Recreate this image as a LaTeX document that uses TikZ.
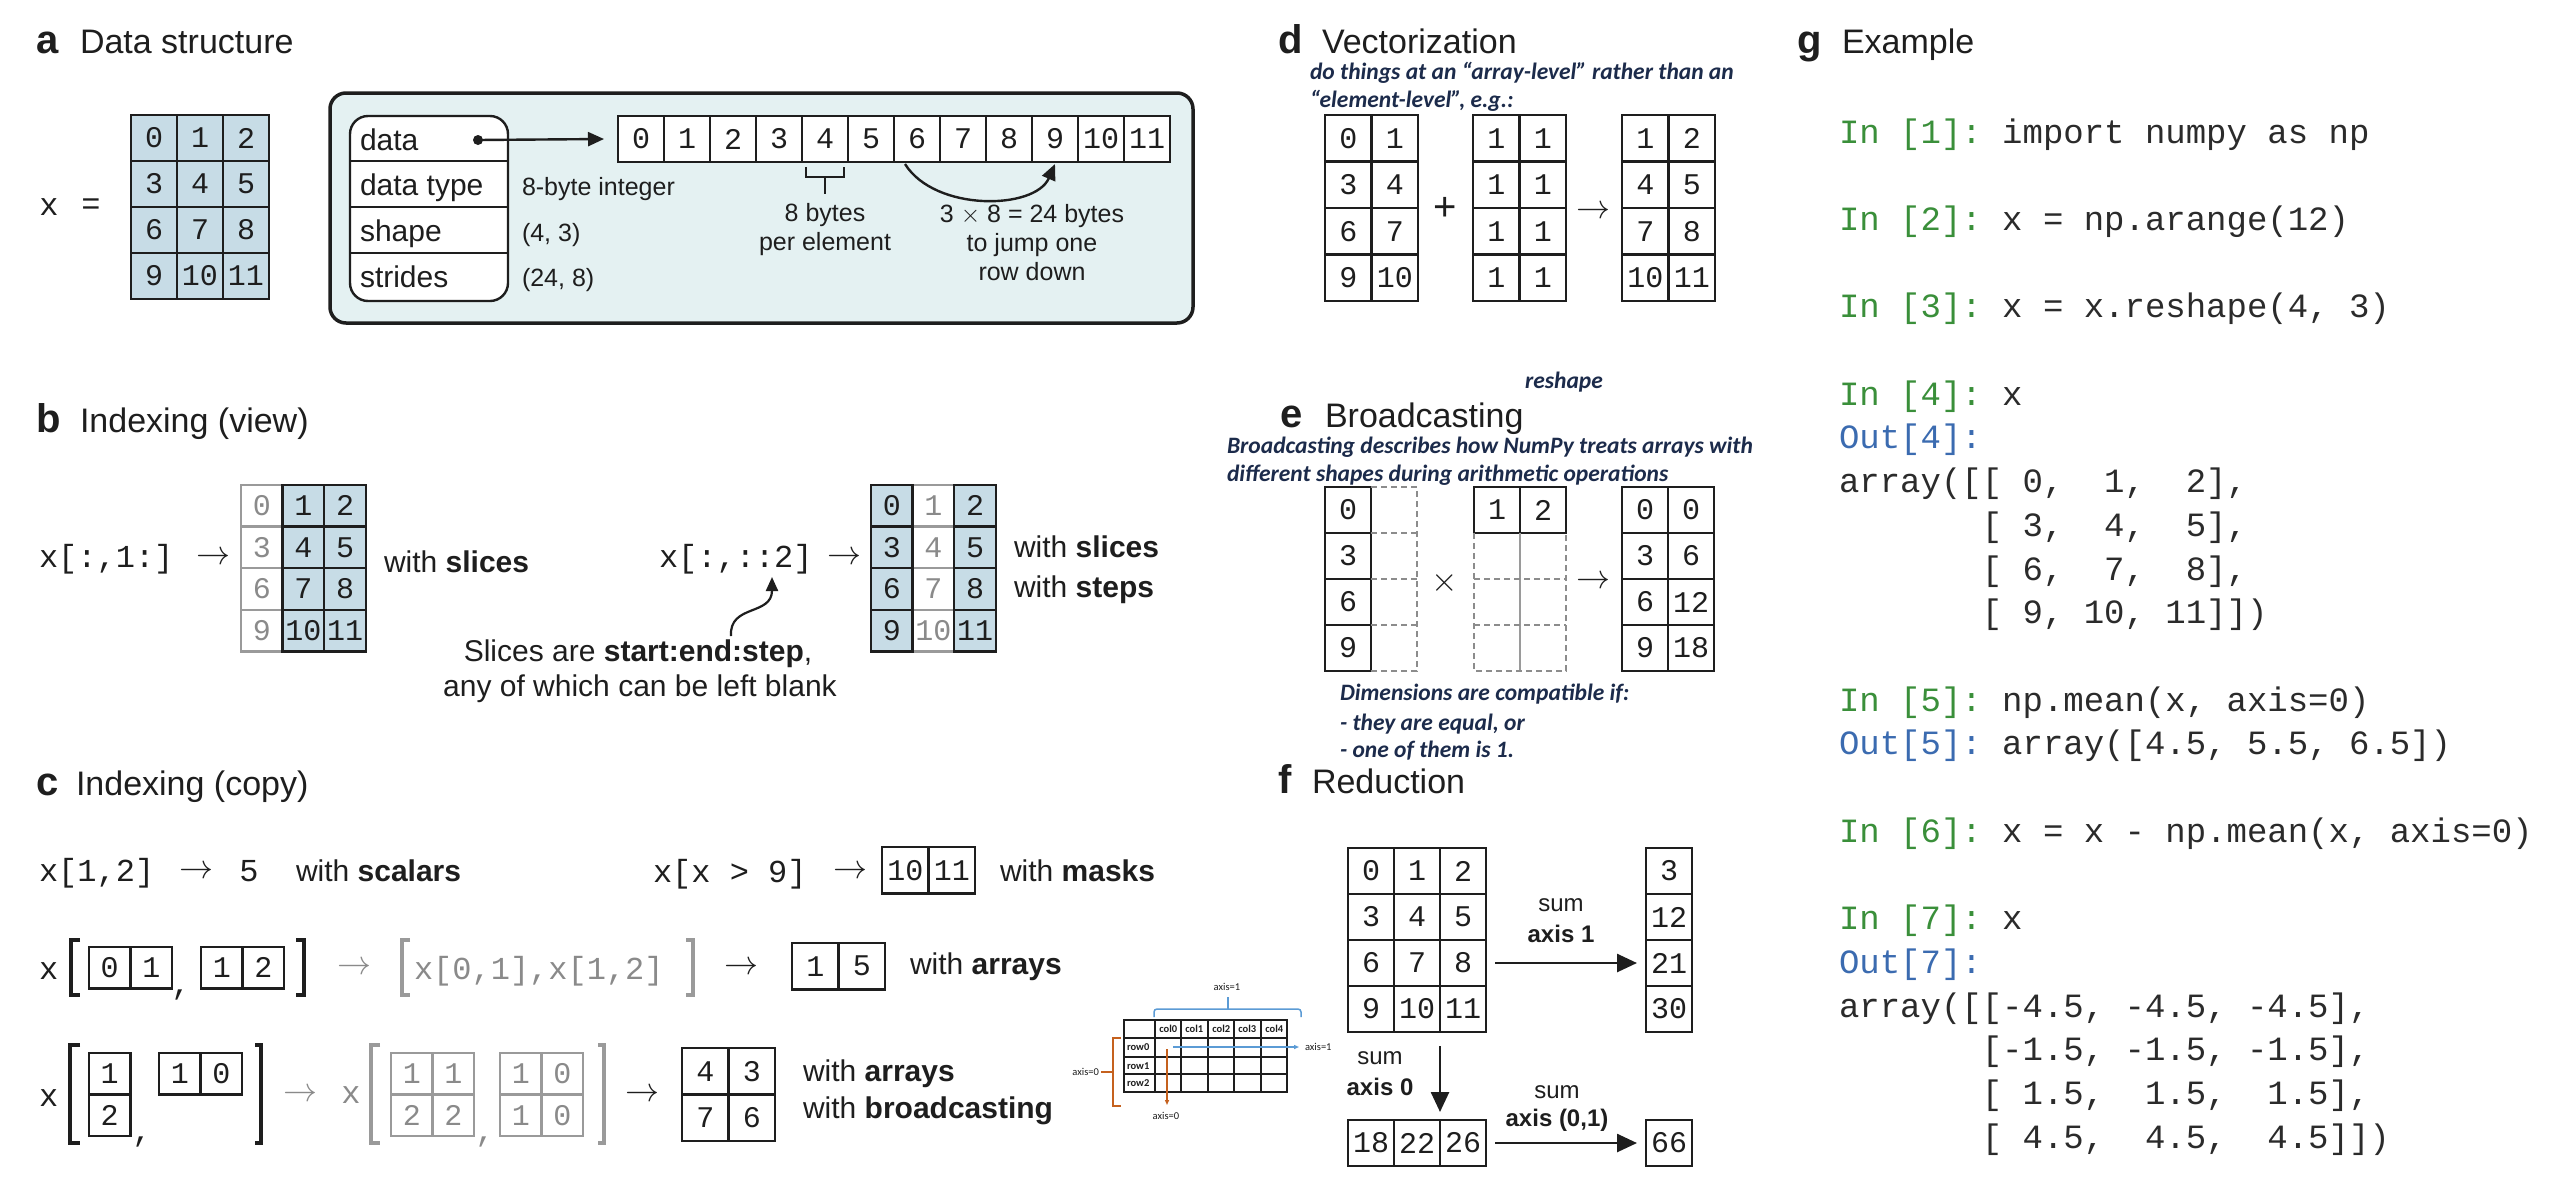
\RequirePackage{fix-cm}
\documentclass[tikz,border=0pt]{standalone}
\usepackage{fontspec}
\setmainfont{Liberation Sans}
\newfontfamily\monof{Liberation Mono}
\newfontfamily\notef{Carlito}
\usetikzlibrary{arrows.meta}

\definecolor{ink}{HTML}{1E1E1E}
\definecolor{cellblue}{HTML}{C7DCE6}
\definecolor{boxfill}{HTML}{E4F1F2}
\definecolor{grayink}{HTML}{8A8A8A}
\definecolor{grayline}{HTML}{9A9A9A}
\definecolor{dashgray}{HTML}{8C8C8C}
\definecolor{navy}{HTML}{1C2B4B}
\definecolor{ingreen}{HTML}{3A8F3A}
\definecolor{outblue}{HTML}{3B6BB0}
\definecolor{codeink}{HTML}{2B2B2B}
\definecolor{axblue}{HTML}{5B9BD5}
\definecolor{axorange}{HTML}{C5611E}

\newcommand\fTitle{\fontsize{34}{38}\selectfont}
\newcommand\fLetter{\fontsize{40}{44}\selectfont\bfseries}
\newcommand\fCell{\monof\fontsize{30}{32}\selectfont}
\newcommand\fCode{\monof\fontsize{32}{36}\selectfont}
\newcommand\fG{\monof\fontsize{34}{40}\selectfont}
\newcommand\fLab{\fontsize{30}{34}\selectfont}
\newcommand\fSmall{\fontsize{25}{29}\selectfont}
\newcommand\fSum{\fontsize{24}{28}\selectfont}
\newcommand\fNote{\notef\bfseries\itshape\fontsize{23.5}{28}\selectfont}
\newcommand\fTiny{\notef\fontsize{10.5}{12}\selectfont}
\newcommand\fTinyB{\notef\bfseries\fontsize{10.5}{12}\selectfont}
\newcommand\fArrow{\fontsize{34}{36}\selectfont}

\newcommand\gIn[1]{\textcolor{ingreen}{In~[#1]:}}
\newcommand\gOut[1]{\textcolor{outblue}{Out[#1]:}}

% array of square cells: [style] name, x0, y0, columns, cell size, values
\newcommand\myArr[7][]{%
  \foreach \v [count=\k from 0] in {#7} {%
    \pgfmathtruncatemacro\rr{floor(\k/#5)}%
    \pgfmathtruncatemacro\cc{mod(\k,#5)}%
    \node[cellbase,minimum size=#6pt,#1] (#2-\rr-\cc) at ({#3+(\cc+0.5)*#6},{#4+(\rr+0.5)*#6}) {\v};
  }%
}

\tikzset{
  cellbase/.style={draw=ink,line width=2.4pt,fill=white,inner sep=0pt,font=\fCell,text=ink},
  bluecell/.style={fill=cellblue},
  graycell/.style={draw=grayline,text=grayink},
  brk/.style={draw=ink,line width=4pt,line join=miter},
  gbrk/.style={brk,draw=grayline,line width=3.5pt},
  bigarrow/.style={draw=ink,line width=2.6pt,-{Triangle[length=20pt,width=18pt]}},
  dashln/.style={draw=dashgray,line width=2pt,dash pattern=on 6pt off 4pt},
  note/.style={font=\fNote,text=navy,anchor=base west},
  codeln/.style={font=\fG,text=codeink,anchor=base west},
}

\begin{document}
\begin{tikzpicture}[x=1pt,y=-1pt,every node/.style={inner sep=0pt,outer sep=0pt,text=ink}]
\path[use as bounding box,fill=white] (0,0) rectangle (2562,1184);

%% ---------------- a: data structure
\node[font=\fLetter,anchor=base west] (la) at (36,53) {a};
\node[font=\fTitle,anchor=base west] (ta) at (80,53) {Data structure};
\node[font=\fCode] (ax) at (49,207) {x};
\node[font=\fCode] (aeq) at (91,207) {=};
\myArr[bluecell]{ga}{131}{115}{3}{46}{0,...,11}

\node[draw=ink,line width=3.5pt,rounded corners=16pt,fill=boxfill,anchor=north west,
      minimum width=863pt,minimum height=230pt] (abox) at (330,93) {};
\node[draw=ink,line width=2.4pt,rounded corners=18pt,fill=white,anchor=north west,
      minimum width=158pt,minimum height=185pt] (meta) at (350,116) {};
\foreach \yy in {161,207,253}
  \draw[ink,line width=2.2pt] (meta.west |- 0,\yy) -- (meta.east |- 0,\yy);
\node[font=\fLab,anchor=base west] (mdata) at (360,150) {data};
\node[font=\fLab,anchor=base west] (mtype) at (360,195) {data type};
\node[font=\fLab,anchor=base west] (mshape) at (360,241) {shape};
\node[font=\fLab,anchor=base west] (mstr) at (360,287) {strides};
\node[font=\fSmall,anchor=base west] (vtype) at (522,195) {8-byte integer};
\node[font=\fSmall,anchor=base west] (vshape) at (522,241) {(4, 3)};
\node[font=\fSmall,anchor=base west] (vstr) at (522,286) {(24, 8)};

\myArr{arr}{618}{116}{12}{46}{0,...,11}
\coordinate (dot) at (478,140);
\fill[ink] (dot) circle (5pt);
\draw[ink,line width=2.4pt,-{Triangle[length=16pt,width=14pt]}] (dot) -- ([xshift=-14pt]arr-0-0.west);

\draw[ink,line width=2.2pt] ([xshift=4pt,yshift=-5pt]arr-0-4.south west) -- ++(0,10)
  -- ([xshift=-4pt,yshift=-15pt]arr-0-4.south east) -- ++(0,-10);
\draw[ink,line width=2.2pt] ([yshift=-15pt]arr-0-4.south) -- ++(0,17);
\node[font=\fSmall,anchor=base] (bytes1) at (825,221) {8 bytes};
\node[font=\fSmall,anchor=base] (bytes2) at (825,250) {per element};

\draw[ink,line width=2.4pt,-{Triangle[length=16pt,width=14pt]}]
  ([xshift=-12pt,yshift=-2pt]arr-0-6.south) .. controls (935,212) and (1035,210) .. ([yshift=-2pt]arr-0-9.south);
\node[font=\fSmall,anchor=base] (jump1) at (1032,222) {3 $\times$ 8 = 24 bytes};
\node[font=\fSmall,anchor=base] (jump2) at (1032,251) {to jump one};
\node[font=\fSmall,anchor=base] (jump3) at (1032,280) {row down};

%% ---------------- b: indexing (view)
\node[font=\fLetter,anchor=base west] (lb) at (36,432) {b};
\node[font=\fTitle,anchor=base west] (tb) at (80,432) {Indexing (view)};

\node[font=\fCode,anchor=base west] (bx1) at (39,567) {x[:,1:]};
\node[font=\fArrow] (bar1) at (213,558) {$\rightarrow$};
\myArr[graycell]{b1g}{241}{485}{1}{41.6}{0,3,6,9}
\myArr[bluecell]{b1b}{282.6}{485}{2}{41.6}{1,2,4,5,7,8,10,11}
\node[font=\fLab,anchor=base west] (bw1) at (384,572) {with \textbf{slices}};

\node[font=\fCode,anchor=base west] (bx2) at (659,567) {x[:,::2]};
\node[font=\fArrow] (bar2) at (844,558) {$\rightarrow$};
\myArr[graycell]{b2g}{912.6}{485}{1}{41.6}{1,4,7,10}
\myArr[bluecell]{b2l}{871}{485}{1}{41.6}{0,3,6,9}
\myArr[bluecell]{b2r}{954.2}{485}{1}{41.6}{2,5,8,11}
\node[font=\fLab,anchor=base west] (bw2) at (1014,557) {with \textbf{slices}};
\node[font=\fLab,anchor=base west] (bw3) at (1014,597) {with \textbf{steps}};

\node[font=\fLab,anchor=base] (cap1) at (638,661) {Slices are \textbf{start:end:step},};
\node[font=\fLab,anchor=base] (cap2) at (640,696) {any of which can be left blank};
\coordinate (sa) at (731,636);
\coordinate (sb) at (772,577);
\draw[ink,line width=2.2pt,-{Triangle[length=14pt,width=12pt]}] (sa) .. controls (729,604) and (772,616) .. (sb);

%% ---------------- c: indexing (copy)
\node[font=\fLetter,anchor=base west] (lc) at (36,795) {c};
\node[font=\fTitle,anchor=base west] (tc) at (76,795) {Indexing (copy)};

\node[font=\fCode,anchor=base west] (cx1) at (39,881) {x[1,2]};
\node[font=\fArrow] (car1) at (196,872) {$\rightarrow$};
\node[font=\fCode,anchor=base] (cfive) at (249,881) {5};
\node[font=\fLab,anchor=base west] (cw1) at (296,881) {with \textbf{scalars}};

\node[font=\fCode,anchor=base west] (cx2) at (653,882) {x[x~>~9]};
\node[font=\fArrow] (car2) at (850,872) {$\rightarrow$};
\myArr{mask}{882}{847}{2}{46.5}{10,11}
\node[font=\fLab,anchor=base west] (cw2) at (1000,881) {with \textbf{masks}};

% second row: integer arrays
\node[font=\fCode,anchor=base west] (cx3) at (39,979) {x};
\draw[brk] (80,940) -| (71,995) -- (80,995);
\myArr{ia}{89}{947}{2}{41.5}{0,1}
\node[font=\fCode] (cm1) at (181,995) {,};
\myArr{ib}{201}{947}{2}{41.5}{1,2}
\draw[brk] (296,940) -| (304,995) -- (296,995);
\node[font=\fArrow,text=grayink] (car3) at (354,968) {$\rightarrow$};
\draw[gbrk] (410,940) -| (402,995) -- (410,995);
\node[font=\fCode,text=grayink,anchor=base west] (cx4) at (414,979) {x[0,1],x[1,2]};
\draw[gbrk] (686,940) -| (693,995) -- (686,995);
\node[font=\fArrow] (car4) at (741,968) {$\rightarrow$};
\myArr{res}{792}{943}{2}{46.5}{1,5}
\node[font=\fLab,anchor=base west] (cw3) at (910,974) {with \textbf{arrays}};

% third row: broadcast index arrays
\node[font=\fCode,anchor=base west] (cx5) at (39,1106) {x};
\draw[brk] (80,1045) -| (70,1143) -- (80,1143);
\myArr{ic}{89}{1053}{1}{41.5}{1,2}
\node[font=\fCode] (cm2) at (142,1142) {,};
\myArr{id}{159}{1053}{2}{41.5}{1,0}
\draw[brk] (255,1045) -| (261,1143) -- (255,1143);
\node[font=\fArrow,text=grayink] (car5) at (300,1095) {$\rightarrow$};
\node[font=\fCode,text=grayink] (cx6) at (351,1095) {x};
\draw[gbrk] (380,1045) -| (371,1143) -- (380,1143);
\myArr[graycell]{ie}{391}{1053}{2}{41.5}{1,1,2,2}
\node[font=\fCode,text=grayink] (cm3) at (485,1142) {,};
\myArr[graycell]{if}{500}{1053}{2}{41.5}{1,0,1,0}
\draw[gbrk] (598,1045) -| (604,1143) -- (598,1143);
\node[font=\fArrow] (car6) at (642,1095) {$\rightarrow$};
\myArr{ig}{682}{1048}{2}{46.5}{4,3,7,6}
\node[font=\fLab,anchor=base west] (cw4) at (803,1081) {with \textbf{arrays}};
\node[font=\fLab,anchor=base west] (cw5) at (803,1118) {with \textbf{broadcasting}};

% axis sketch
\draw[ink,line width=1.2pt] (1124,1020) rectangle (1287,1092);
\foreach \xx in {1155,1181,1208,1234,1261}
  \draw[ink,line width=1.2pt] (\xx,1020) -- (\xx,1092);
\foreach \yy in {1038,1057,1074}
  \draw[ink,line width=1.2pt] (1124,\yy) -- (1287,\yy);
\foreach \xx [count=\i from 0] in {1155,1181,1208,1234,1261}
  \node[font=\fTinyB] (colh\i) at (\xx+13.2,1029) {col\i};
\foreach \yy [count=\i from 0] in {1038,1057,1074}
  \node[font=\fTinyB,anchor=west] (rowh\i) at (1127,\yy+9) {row\i};
\draw[axblue,line width=1.5pt,rounded corners=3pt] (1154,1017) -- (1154,1009) -- (1301,1009) -- (1301,1017);
\draw[axblue,line width=1.5pt] (1228,1009) -- (1228,997);
\node[font=\fTiny] (ax1t) at (1227,987) {axis=1};
\coordinate (ab0) at (1173,1047);
\coordinate (ab1) at (1299,1047);
\draw[axblue,line width=1.3pt,-{Triangle[length=5pt,width=4pt]}] (ab0) -- (ab1);
\node[font=\fTiny,anchor=west] (ax1r) at (1305,1047) {axis=1};
\draw[axorange,line width=1.5pt] (1121,1038) -- (1113,1038) -- (1113,1106) -- (1121,1106);
\draw[axorange,line width=1.5pt] (1113,1072) -- (1101,1072);
\node[font=\fTiny,anchor=east] (ax0l) at (1099,1072) {axis=0};
\coordinate (ao0) at (1167,1049);
\coordinate (ao1) at (1167,1105);
\draw[axorange,line width=1.3pt,-{Triangle[length=5pt,width=4pt]}] (ao0) -- (ao1);
\node[font=\fTiny] (ax0b) at (1166,1116) {axis=0};

%% ---------------- d: vectorization
\node[font=\fLetter,anchor=base west] (ld) at (1278,53) {d};
\node[font=\fTitle,anchor=base west] (td) at (1322,53) {Vectorization};
\node[note] (dn1) at (1310,79) {do things at an “array-level” rather than an};
\node[note] (dn2) at (1310,107) {“element-level”, e.g.:};
\myArr{dl}{1325}{115}{2}{46.5}{0,1,3,4,6,7,9,10}
\node[font=\fontsize{40}{40}\selectfont] (dplus) at (1445,209) {+};
\myArr{dm}{1473}{115}{2}{46.5}{1,1,1,1,1,1,1,1}
\node[font=\fArrow] (dar) at (1593,212) {$\rightarrow$};
\myArr{dr}{1622}{115}{2}{46.5}{1,2,4,5,7,8,10,11}
\node[font=\fNote,text=navy] (resh) at (1564,382) {reshape};

%% ---------------- e: broadcasting
\node[font=\fLetter,anchor=base west] (le) at (1280,427) {e};
\node[font=\fTitle,anchor=base west] (te) at (1325,427) {Broadcasting};
\node[note] (en1) at (1227,453) {Broadcasting describes how NumPy treats arrays with};
\node[note] (en2) at (1227,481) {different shapes during arithmetic operations};
\myArr{el}{1325}{487}{1}{46}{0,3,6,9}
\draw[dashln] (el-0-0.north east) -- ++(46,0) -- ++(0,184) -- ++(-46,0);
\foreach \r in {0,1,2}
  \draw[dashln] (el-\r-0.south east) -- ++(46,0);
\myArr{em}{1474}{487}{2}{46}{1,2}
\draw[grayline,line width=1.6pt] (em-0-0.south east) -- ++(0,138);
\draw[dashln] (em-0-0.south west) -- ++(0,138) -- ++(92,0) -- ++(0,-138);
\foreach \s in {46,92}
  \draw[dashln] ([yshift=-\s pt]em-0-0.south west) -- ++(92,0);
\node[font=\fArrow] (etimes) at (1445,583) {$\times$};
\node[font=\fArrow] (ear) at (1593,582) {$\rightarrow$};
\myArr{er}{1622}{487}{2}{46}{0,0,3,6,6,12,9,18}
\node[note] (ec1) at (1340,700) {Dimensions are compatible if:};
\node[note] (ec2) at (1340,730) {- they are equal, or};
\node[note] (ec3) at (1340,757) {- one of them is 1.};

%% ---------------- f: reduction
\node[font=\fLetter,anchor=base west] (lf) at (1278,793) {f};
\node[font=\fTitle,anchor=base west] (tf) at (1312,793) {Reduction};
\myArr{fx}{1348}{848}{3}{46}{0,...,11}
\myArr{fr}{1646}{848}{1}{46}{3,12,21,30}
\myArr{fb}{1348}{1120}{3}{46}{18,22,26}
\myArr{fs}{1646}{1120}{1}{46}{66}
\draw[bigarrow] ([xshift=9pt]fx-2-2.east) -- ([xshift=-9pt]fr-2-0.west);
\node[font=\fSum] (fs1) at (1561,905) {sum};
\node[font=\fSum\bfseries] (fa1) at (1561,934) {axis 1};
\draw[bigarrow] ([yshift=-14pt]fx-3-1.south east) -- ([yshift=8pt]fb-0-1.north east);
\node[font=\fSum] (fs0) at (1380,1058) {sum};
\node[font=\fSum\bfseries] (fa0) at (1380,1087) {axis 0};
\draw[bigarrow] ([xshift=9pt]fb-0-2.east) -- ([xshift=-9pt]fs-0-0.west);
\node[font=\fSum] (fs2) at (1557,1092) {sum};
\node[font=\fSum\bfseries] (fa2) at (1557,1120) {axis (0,1)};

%% ---------------- g: example session
\node[font=\fLetter,anchor=base west] (lg) at (1797,53) {g};
\node[font=\fTitle,anchor=base west] (tg) at (1842,53) {Example};
\node[codeln] (g0)  at (1839,{143+0*43.7})  {\gIn{1}~import~numpy~as~np};
\node[codeln] (g2)  at (1839,{143+2*43.7})  {\gIn{2}~x~=~np.arange(12)};
\node[codeln] (g4)  at (1839,{143+4*43.7})  {\gIn{3}~x~=~x.reshape(4,~3)};
\node[codeln] (g6)  at (1839,{143+6*43.7})  {\gIn{4}~x};
\node[codeln] (g7)  at (1839,{143+7*43.7})  {\gOut{4}};
\node[codeln] (g8)  at (1839,{143+8*43.7})  {array([[~0,~~1,~~2],};
\node[codeln] (g9)  at (1839,{143+9*43.7})  {~~~~~~~[~3,~~4,~~5],};
\node[codeln] (g10) at (1839,{143+10*43.7}) {~~~~~~~[~6,~~7,~~8],};
\node[codeln] (g11) at (1839,{143+11*43.7}) {~~~~~~~[~9,~10,~11]])};
\node[codeln] (g13) at (1839,{143+13*43.7}) {\gIn{5}~np.mean(x,~axis=0)};
\node[codeln] (g14) at (1839,{143+14*43.7}) {\gOut{5}~array([4.5,~5.5,~6.5])};
\node[codeln] (g16) at (1839,{143+16*43.7}) {\gIn{6}~x~=~x~-~np.mean(x,~axis=0)};
\node[codeln] (g18) at (1839,{143+18*43.7}) {\gIn{7}~x};
\node[codeln] (g19) at (1839,{143+19*43.7}) {\gOut{7}};
\node[codeln] (g20) at (1839,{143+20*43.7}) {array([[-4.5,~-4.5,~-4.5],};
\node[codeln] (g21) at (1839,{143+21*43.7}) {~~~~~~~[-1.5,~-1.5,~-1.5],};
\node[codeln] (g22) at (1839,{143+22*43.7}) {~~~~~~~[~1.5,~~1.5,~~1.5],};
\node[codeln] (g23) at (1839,{143+23*43.7}) {~~~~~~~[~4.5,~~4.5,~~4.5]])};
\end{tikzpicture}
\end{document}
